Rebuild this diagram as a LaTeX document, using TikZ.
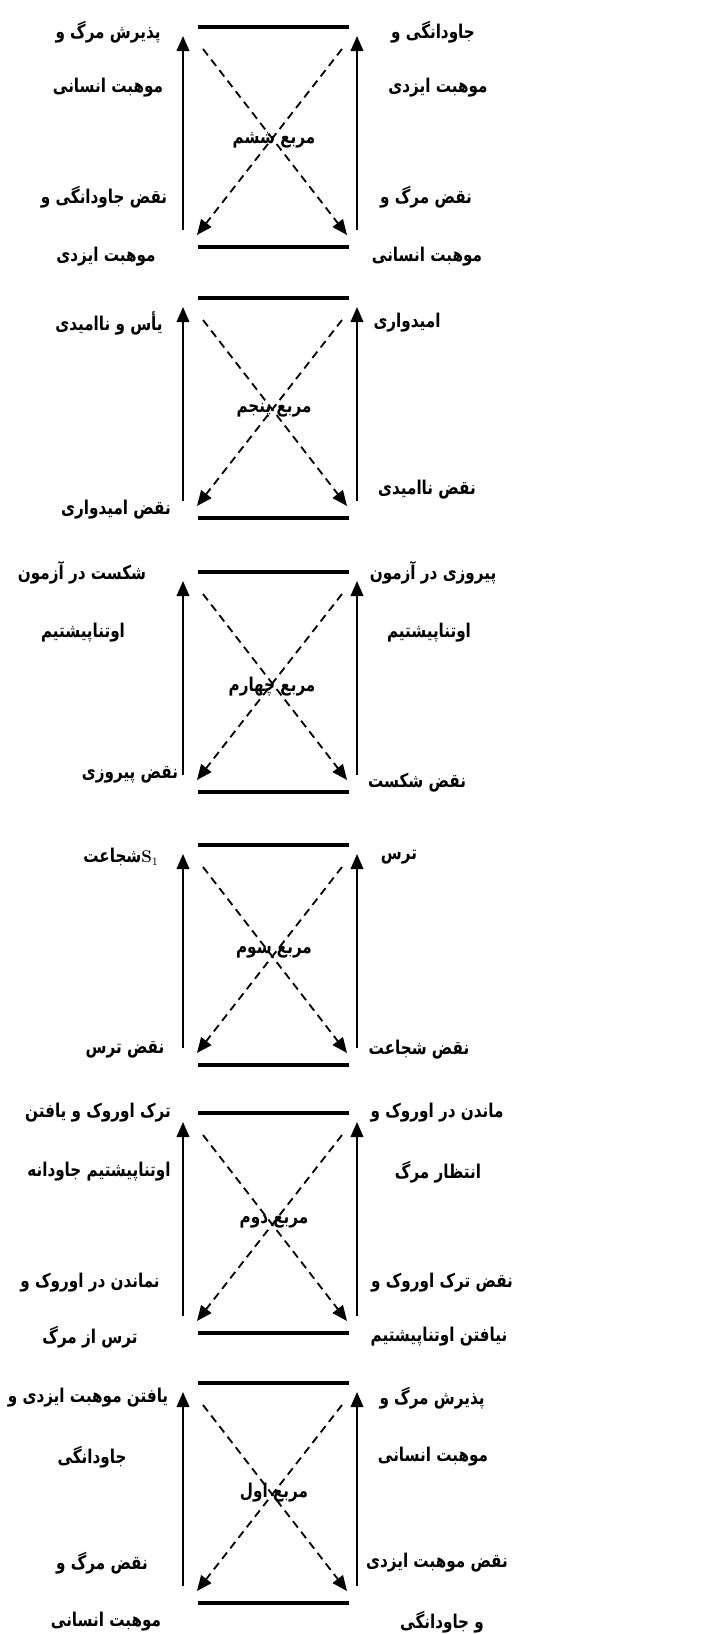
\documentclass[tikz,border=0pt]{standalone}
\usepackage{fontspec}
\usetikzlibrary{arrows.meta}
\newfontfamily\arabicfont[Script=Arabic,FakeStretch=0.8]{DejaVu Sans}
\TeXXeTstate=1
\tikzset{
  lbl/.style={font=\arabicfont\bfseries\fontsize{13.5}{16}\selectfont, inner sep=0pt},
  bar/.style={line width=2.8pt},
  sidearrow/.style={-{Triangle[length=3.8mm,width=3.2mm]}, line width=1.3pt},
  diagarrow/.style={sidearrow, dash pattern=on 5.7pt off 3.8pt},
}
\begin{document}
\begin{tikzpicture}[x=0.025cm,y=-0.025cm]
  \useasboundingbox (0,0) rectangle (700,1634);
  \foreach \t/\n in {27/6,298/5,572/4,845/3,1113/2,1383/1}{
    \coordinate (a\n) at (198,\t);
    \coordinate (b\n) at (349,\t);
    \coordinate (c\n) at (198,\t+220);
    \coordinate (d\n) at (349,\t+220);
    \coordinate (lu\n) at (183,\t+9);
    \coordinate (ld\n) at (183,\t+203);
    \coordinate (ru\n) at (357,\t+9);
    \coordinate (rd\n) at (357,\t+203);
    \coordinate (p\n) at (203,\t+22);
    \coordinate (q\n) at (347,\t+208);
    \coordinate (r\n) at (342,\t+22);
    \coordinate (s\n) at (197,\t+208);
    \draw[bar] (a\n) -- (b\n);
    \draw[bar] (c\n) -- (d\n);
    \draw[sidearrow] (ld\n) -- (lu\n);
    \draw[sidearrow] (rd\n) -- (ru\n);
    \draw[diagarrow] (p\n) -- (q\n);
    \draw[diagarrow] (r\n) -- (s\n);
  }
  \node[lbl] (m6) at (274,140) {\beginR مربع ششم\endR};
  \node[lbl] (tl6a) at (108,32) {\beginR پذیرش مرگ و\endR};
  \node[lbl] (tl6b) at (108,88) {\beginR موهبت انسانی\endR};
  \node[lbl] (tr6a) at (433,32) {\beginR جاودانگی و\endR};
  \node[lbl] (tr6b) at (438,88) {\beginR موهبت ایزدی\endR};
  \node[lbl] (bl6a) at (104,197) {\beginR نقض جاودانگی و\endR};
  \node[lbl] (bl6b) at (106,257) {\beginR موهبت ایزدی\endR};
  \node[lbl] (br6a) at (426,197) {\beginR نقض مرگ و\endR};
  \node[lbl] (br6b) at (427,257) {\beginR موهبت انسانی\endR};
  \node[lbl] (m5) at (274,410) {\beginR مربع پنجم\endR};
  \node[lbl] (tl5) at (109,323) {\beginR یأس و ناامیدی\endR};
  \node[lbl] (tr5) at (407,323) {\beginR امیدواری\endR};
  \node[lbl] (bl5) at (116,510) {\beginR نقض امیدواری\endR};
  \node[lbl] (br5) at (427,490) {\beginR نقض ناامیدی\endR};
  \node[lbl] (m4) at (272,687) {\beginR مربع چهارم\endR};
  \node[lbl] (tl4a) at (82,573) {\beginR شکست در آزمون\endR};
  \node[lbl] (tl4b) at (83,633) {\beginR اوتناپیشتیم\endR};
  \node[lbl] (tr4a) at (433,573) {\beginR پیروزی در آزمون\endR};
  \node[lbl] (tr4b) at (429,633) {\beginR اوتناپیشتیم\endR};
  \node[lbl] (bl4) at (130,775) {\beginR نقض پیروزی\endR};
  \node[lbl] (br4) at (417,783) {\beginR نقض شکست\endR};
  \node[lbl] (m3) at (274,952) {\beginR مربع سوم\endR};
  \node[lbl] (tl3) at (121,857) {\beginR\beginL{\rmfamily\bfseries\large S$_1$}\endL شجاعت\endR};
  \node[lbl] (tr3) at (399,857) {\beginR ترس\endR};
  \node[lbl] (bl3) at (125,1050) {\beginR نقض ترس\endR};
  \node[lbl] (br3) at (419,1050) {\beginR نقض شجاعت\endR};
  \node[lbl] (m2) at (274,1222) {\beginR مربع دوم\endR};
  \node[lbl] (tl2a) at (98,1113) {\beginR ترک اوروک و یافتن\endR};
  \node[lbl] (tl2b) at (99,1172) {\beginR اوتناپیشتیم جاودانه\endR};
  \node[lbl] (tr2a) at (437,1113) {\beginR ماندن در اوروک و\endR};
  \node[lbl] (tr2b) at (438,1172) {\beginR انتظار مرگ\endR};
  \node[lbl] (bl2a) at (90,1283) {\beginR نماندن در اوروک و\endR};
  \node[lbl] (bl2b) at (90,1337) {\beginR ترس از مرگ\endR};
  \node[lbl] (br2a) at (442,1283) {\beginR نقض ترک اوروک و\endR};
  \node[lbl] (br2b) at (439,1337) {\beginR نیافتن اوتناپیشتیم\endR};
  \node[lbl] (m1) at (274,1493) {\beginR مربع اول\endR};
  \node[lbl] (tl1a) at (88,1398) {\beginR یافتن موهبت ایزدی و\endR};
  \node[lbl] (tl1b) at (92,1457) {\beginR جاودانگی\endR};
  \node[lbl] (tr1a) at (432,1398) {\beginR پذیرش مرگ و\endR};
  \node[lbl] (tr1b) at (433,1457) {\beginR موهبت انسانی\endR};
  \node[lbl] (bl1a) at (102,1563) {\beginR نقض مرگ و\endR};
  \node[lbl] (bl1b) at (106,1622) {\beginR موهبت انسانی\endR};
  \node[lbl] (br1a) at (437,1563) {\beginR نقض موهبت ایزدی\endR};
  \node[lbl] (br1b) at (442,1622) {\beginR و جاودانگی\endR};
\end{tikzpicture}
\end{document}
